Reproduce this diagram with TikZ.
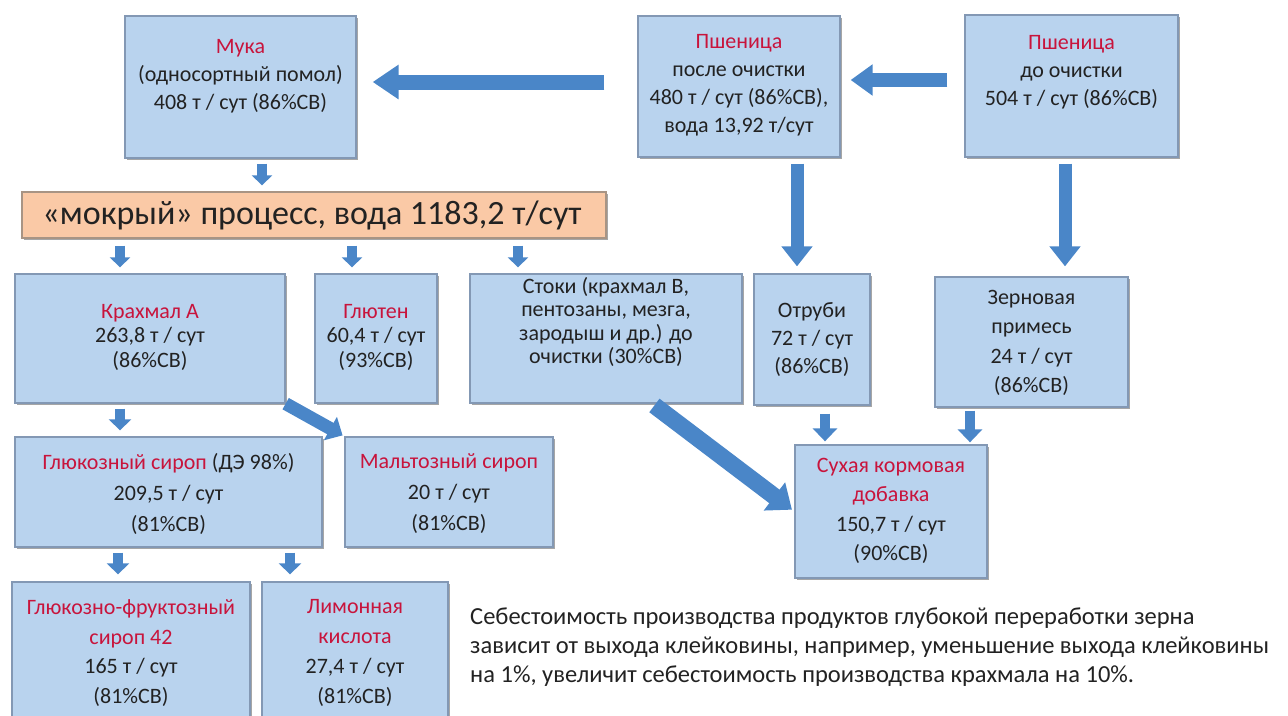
\documentclass[tikz,border=0pt]{standalone}
\usepackage{fontspec}
\setmainfont{Carlito}
\usetikzlibrary{arrows.meta,shadows}

\definecolor{boxfill}{HTML}{B9D3EE}
\definecolor{boxline}{HTML}{8398B4}
\definecolor{titlered}{HTML}{C8143C}
\definecolor{arrowblue}{HTML}{4A86C8}
\definecolor{barfill}{HTML}{FAC9A6}
\definecolor{barline}{HTML}{A89484}
\definecolor{textgray}{HTML}{222222}

\tikzset{
  box/.style={draw=boxline, line width=1.3pt, fill=boxfill, inner sep=0pt,
    drop shadow={shadow xshift=2pt, shadow yshift=-2pt, fill=black, opacity=0.35}},
  barbox/.style={draw=barline, line width=1.3pt, fill=barfill, inner sep=0pt,
    drop shadow={shadow xshift=2pt, shadow yshift=-2pt, fill=black, opacity=0.35}},
  boxtext/.style={align=center, inner sep=0pt, text=textgray,
    font=\fontsize{22}{#1}\selectfont},
  boxtext/.default=28,
  flowarrow/.style n args={3}{draw=arrowblue, line width=#1,
    -{Triangle[width=#2, length=#3]}}
}
\newcommand{\ttl}[1]{\textcolor{titlered}{#1}}

\begin{document}
\begin{tikzpicture}[x=1pt, y=-1pt]
\useasboundingbox (0,0) rectangle (1288,715);
\clip (0,0) rectangle (1288,715);

% ---------- boxes ----------
\node[box, minimum width=231pt, minimum height=142pt] (muka)  at (240.5,87)   {};
\node[box, minimum width=202pt, minimum height=141pt] (psh1)  at (739,86.5)   {};
\node[box, minimum width=213pt, minimum height=142pt] (psh2)  at (1071.5,86)  {};
\node[barbox, minimum width=584pt, minimum height=46pt] (bar) at (314,215)    {};
\node[box, minimum width=270pt, minimum height=129pt] (krah)  at (150,338.5)  {};
\node[box, minimum width=122pt, minimum height=129pt] (glut)  at (376,338.5)  {};
\node[box, minimum width=272pt, minimum height=129pt] (stoki) at (606,338.5)  {};
\node[box, minimum width=116pt, minimum height=131pt] (otr)   at (812,339.5)  {};
\node[box, minimum width=193pt, minimum height=130pt] (zern)  at (1031.5,342) {};
\node[box, minimum width=307pt, minimum height=110pt] (gluk)  at (168.5,492)  {};
\node[box, minimum width=208pt, minimum height=110pt] (malt)  at (449,492)    {};
\node[box, minimum width=192pt, minimum height=133pt] (suh)   at (891,511.5)  {};
\node[box, minimum width=238pt, minimum height=143pt] (gfs)   at (131,653.5)  {};
\node[box, minimum width=186pt, minimum height=143pt] (lim)   at (355,653.5)  {};

% ---------- texts ----------
\node[boxtext] (muka-t) at (240.5,76) {\ttl{Мука}\\(односортный помол)\\408 т / сут (86\%СВ)};
\node[boxtext] (psh1-t) at (739,85) {\ttl{Пшеница}\\после очистки\\480 т / сут (86\%СВ),\\вода 13,92 т/сут};
\node[boxtext] (psh2-t) at (1071.5,72) {\ttl{Пшеница}\\до очистки\\504 т / сут (86\%СВ)};
\node[align=center, inner sep=0pt, text=textgray, font=\fontsize{34}{40}\selectfont]
  (bar-t) at (312,215) {«мокрый» процесс, вода 1183,2 т/сут};
\node[boxtext=24.5] (krah-t) at (150,337) {\ttl{Крахмал А}\\263,8 т / сут\\(86\%СВ)};
\node[boxtext=24.5] (glut-t) at (376,337) {\ttl{Глютен}\\60,4 т / сут\\(93\%СВ)};
\node[boxtext=23.5] (stoki-t) at (606,322) {Стоки (крахмал В,\\пентозаны, мезга,\\зародыш и др.) до\\очистки (30\%СВ)};
\node[boxtext=28] (otr-t) at (812,340) {Отруби\\72 т / сут\\(86\%СВ)};
\node[boxtext=29.5] (zern-t) at (1031.5,343) {Зерновая\\примесь\\24 т / сут\\(86\%СВ)};
\node[boxtext=31] (gluk-t) at (168.5,494) {\ttl{Глюкозный сироп} (ДЭ 98\%)\\209,5 т / сут\\(81\%СВ)};
\node[boxtext=31] (malt-t) at (449,494) {\ttl{Мальтозный сироп}\\20 т / сут\\(81\%СВ)};
\node[boxtext=29.5] (suh-t) at (891,511) {\ttl{Сухая кормовая}\\\ttl{добавка}\\150,7 т / сут\\(90\%СВ)};
\node[boxtext=29.7] (gfs-t) at (131,653) {\ttl{Глюкозно-фруктозный}\\\ttl{сироп 42}\\165 т / сут\\(81\%СВ)};
\node[boxtext=29.7] (lim-t) at (355,653) {\ttl{Лимонная}\\\ttl{кислота}\\27,4 т / сут\\(81\%СВ)};

\node[anchor=west, align=left, inner sep=0pt, text=textgray,
  font=\fontsize{24.5}{29}\selectfont] (note) at (470,647)
  {Себестоимость производства продуктов глубокой переработки зерна\\
   зависит от выхода клейковины, например, уменьшение выхода клейковины\\
   на 1\%, увеличит себестоимость производства крахмала на 10\%.};

% ---------- arrows ----------
\draw[flowarrow={15pt}{33pt}{26pt}, shorten <=33pt, shorten >=16pt]
  (psh1.west |- 0,82) -- (muka.east |- 0,82);
\draw[flowarrow={14pt}{30pt}{22pt}, shorten <=17pt, shorten >=10pt]
  (psh2.west |- 0,80) -- (psh1.east |- 0,80);

\draw[flowarrow={10pt}{20pt}{10pt}, shorten <=5pt, shorten >=6pt]
  (muka.south -| 262,0) -- (bar.north -| 262,0);
\draw[flowarrow={10pt}{20pt}{10pt}, shorten <=7pt, shorten >=6pt]
  (bar.south -| 120,0) -- (krah.north -| 120,0);
\draw[flowarrow={10pt}{20pt}{10pt}, shorten <=7pt, shorten >=6pt]
  (bar.south -| 352,0) -- (glut.north -| 352,0);
\draw[flowarrow={10pt}{20pt}{10pt}, shorten <=7pt, shorten >=6pt]
  (bar.south -| 518,0) -- (stoki.north -| 518,0);

\draw[flowarrow={13pt}{30pt}{20pt}, shorten <=6pt, shorten >=7pt]
  (psh1.south -| 797,0) -- (otr.north -| 797,0);
\draw[flowarrow={13pt}{30pt}{20pt}, shorten <=6pt, shorten >=10pt]
  (psh2.south -| 1065,0) -- (zern.north -| 1065,0);

\draw[flowarrow={10pt}{22pt}{11pt}, shorten <=5pt, shorten >=6pt]
  (krah.south -| 120,0) -- (gluk.north -| 120,0);
\draw[flowarrow={13pt}{26pt}{14pt}, shorten >=2pt]
  (krah.south east) -- (malt.north west);
\draw[flowarrow={17pt}{34pt}{22pt}, shorten <=3pt, shorten >=3pt]
  (stoki.south -| 652,0) -- (suh.west);

\draw[flowarrow={10pt}{24pt}{13pt}, shorten <=8pt, shorten >=3pt]
  (otr.south -| 825,0) -- (suh.north -| 825,0);
\draw[flowarrow={10pt}{24pt}{13pt}, shorten <=3pt, shorten >=2pt]
  (zern.south -| 970,0) -- (suh.north -| 970,0);

\draw[flowarrow={10pt}{22pt}{11pt}, shorten <=5pt, shorten >=7pt]
  (gluk.south -| 118,0) -- (gfs.north -| 118,0);
\draw[flowarrow={10pt}{22pt}{11pt}, shorten <=5pt, shorten >=7pt]
  (gluk.south -| 290,0) -- (lim.north -| 290,0);
\end{tikzpicture}
\end{document}
